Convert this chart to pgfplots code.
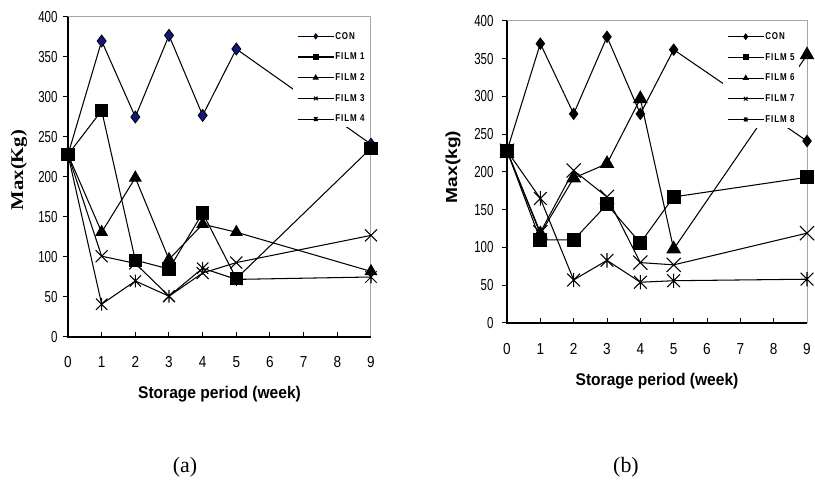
\documentclass[border=0pt]{standalone}
\usepackage{fontspec}
\setmainfont{Liberation Sans}
\usepackage{pgfplots}
\pgfplotsset{compat=1.18}
\newfontfamily\tickyfont[FakeStretch=0.72]{Liberation Sans}
\newfontfamily\tickxfont[FakeStretch=0.85]{Liberation Sans}
\newfontfamily\labfont[FakeStretch=0.92]{Liberation Sans}
\newfontfamily\ylabserif[FakeStretch=1.15]{Liberation Serif}
\newfontfamily\ylabsans[FakeStretch=1.2]{Liberation Sans}
\newfontfamily\legfont[FakeStretch=0.8,LetterSpace=10]{Liberation Sans}
\newfontfamily\capfont{Liberation Serif}
\definecolor{navy}{RGB}{20,20,125}

\pgfdeclareplotmark{xstar}{%
  \pgfpathmoveto{\pgfqpoint{-.7071\pgfplotmarksize}{-.7071\pgfplotmarksize}}%
  \pgfpathlineto{\pgfqpoint{.7071\pgfplotmarksize}{.7071\pgfplotmarksize}}%
  \pgfpathmoveto{\pgfqpoint{-.7071\pgfplotmarksize}{.7071\pgfplotmarksize}}%
  \pgfpathlineto{\pgfqpoint{.7071\pgfplotmarksize}{-.7071\pgfplotmarksize}}%
  \pgfpathmoveto{\pgfqpoint{0pt}{-.8\pgfplotmarksize}}%
  \pgfpathlineto{\pgfqpoint{0pt}{.8\pgfplotmarksize}}%
  \pgfusepathqstroke}

\pgfplotsset{
  mystyle/.style={
    scale only axis, xmin=0, xmax=9, ymin=0, ymax=400,
    xtick={0,...,9}, ytick={0,50,...,400},
    xtick pos=left, ytick pos=left,
    axis line style={draw=none},
    tick align=inside,
    major tick length=5bp,
    tick style={black, line width=1bp},
    ytick style={xshift=-5bp},
    /pgf/number format/assume math mode=true,
    yticklabel style={font=\tickyfont\fontsize{16}{16}\selectfont},
    xticklabel style={font=\tickxfont\fontsize{16}{16}\selectfont},
    clip=false,
    legend cell align=left,
    legend image code/.code={\draw[mark repeat=2,mark phase=2,##1,mark size=2.6bp] plot coordinates {(0bp,0bp) (18bp,0bp) (36bp,0bp)};},
    legend style={fill=white, draw=none, anchor=north west,
      font=\legfont\bfseries\fontsize{10}{10}\selectfont,
      inner xsep=4bp, inner ysep=3bp, row sep=10.3bp, nodes={inner sep=1bp}},
  },
  pl/.style={black, line width=1.05bp, mark options={solid}},
}

\begin{document}
\begin{tikzpicture}
\path[use as bounding box] (0,0) rectangle (815bp,489bp);

% ---------- (a) ----------
\begin{axis}[mystyle,
  at={(68bp,152bp)}, anchor=south west, width=303bp, height=320bp,
  yticklabel style={xshift=-7bp},
  xticklabel style={yshift=-16bp},
  xlabel={Storage period (week)},
  xlabel style={at={(axis description cs:0.5,0)}, anchor=center, yshift=-57bp,
    font=\labfont\bfseries\fontsize{17}{17}\selectfont},
  ylabel={Max(Kg)},
  ylabel style={at={(axis description cs:-0.162,0.522)}, anchor=center,
    font=\ylabserif\bfseries\fontsize{18}{18}\selectfont},
  legend style={at={(axis description cs:0.7426,0.966)}},
]
\draw[gray!70, line width=1bp] (rel axis cs:0,1) -- (rel axis cs:1,1) -- (rel axis cs:1,0);
\draw[black, line width=1.3bp] (rel axis cs:0,1) -- (rel axis cs:0,0) -- (rel axis cs:1,0);
\addplot[pl, mark=diamond*, mark size=6bp, mark options={fill=navy, draw=black, line width=0.8bp}]
  coordinates {(0,228) (1,370) (2,275) (3,377) (4,277) (5,360) (9,241)};
\addlegendentry{CON}
\addplot[pl, mark=square*, mark size=6bp]
  coordinates {(0,228) (1,283) (2,96) (3,85) (4,155) (5,73) (9,236)};
\addlegendentry{FILM 1}
\addplot[pl, mark=triangle*, mark size=6.5bp]
  coordinates {(0,228) (1,131) (2,199) (3,97) (4,141) (5,131) (9,82)};
\addlegendentry{FILM 2}
\addplot[pl, mark=x, mark size=8.5bp]
  coordinates {(0,228) (1,101) (2,92) (3,51) (4,80) (5,93) (9,127)};
\addlegendentry{FILM 3}
\addplot[pl, mark=xstar, mark size=8bp]
  coordinates {(0,228) (1,41) (2,70) (3,51) (4,86) (5,72) (9,75)};
\addlegendentry{FILM 4}
\end{axis}

% ---------- (b) ----------
\begin{axis}[mystyle,
  at={(507bp,166bp)}, anchor=south west, width=300bp, height=302bp,
  yticklabel style={xshift=-10bp},
  xticklabel style={yshift=-17bp},
  xlabel={Storage period (week)},
  xlabel style={at={(axis description cs:0.5,0)}, anchor=center, yshift=-58bp,
    font=\labfont\bfseries\fontsize{17}{17}\selectfont},
  ylabel={Max(kg)},
  ylabel style={at={(axis description cs:-0.18,0.517)}, anchor=center,
    font=\ylabsans\bfseries\fontsize{16}{16}\selectfont},
  legend style={at={(axis description cs:0.72,0.976)}},
]
\draw[gray!70, line width=1bp] (rel axis cs:0,1) -- (rel axis cs:1,1) -- (rel axis cs:1,0);
\draw[black, line width=1.3bp] (rel axis cs:0,1) -- (rel axis cs:0,0) -- (rel axis cs:1,0);
\addplot[pl, mark=diamond*, mark size=5.5bp]
  coordinates {(0,228) (1,370) (2,277) (3,379) (4,277) (5,362) (9,241)};
\addlegendentry{CON}
\addplot[pl, mark=square*, mark size=6.5bp]
  coordinates {(0,228) (1,110) (2,110) (3,157) (4,106) (5,167) (9,193)};
\addlegendentry{FILM 5}
\addplot[pl, mark=triangle*, mark size=7.5bp]
  coordinates {(0,228) (1,118) (2,192) (3,211) (4,297) (5,98) (9,355)};
\addlegendentry{FILM 6}
\addplot[pl, mark=x, mark size=10bp]
  coordinates {(0,228) (1,120) (2,202) (3,167) (4,80) (5,77) (9,119)};
\addlegendentry{FILM 7}
\addplot[pl, mark=xstar, mark size=9bp]
  coordinates {(0,228) (1,165) (2,57) (3,83) (4,54) (5,56) (9,58)};
\addlegendentry{FILM 8}
\end{axis}

\node[font=\capfont\fontsize{22}{22}\selectfont] at (185bp,22bp) {(a)};
\node[font=\capfont\fontsize{22}{22}\selectfont] at (626bp,22bp) {(b)};
\end{tikzpicture}
\end{document}
